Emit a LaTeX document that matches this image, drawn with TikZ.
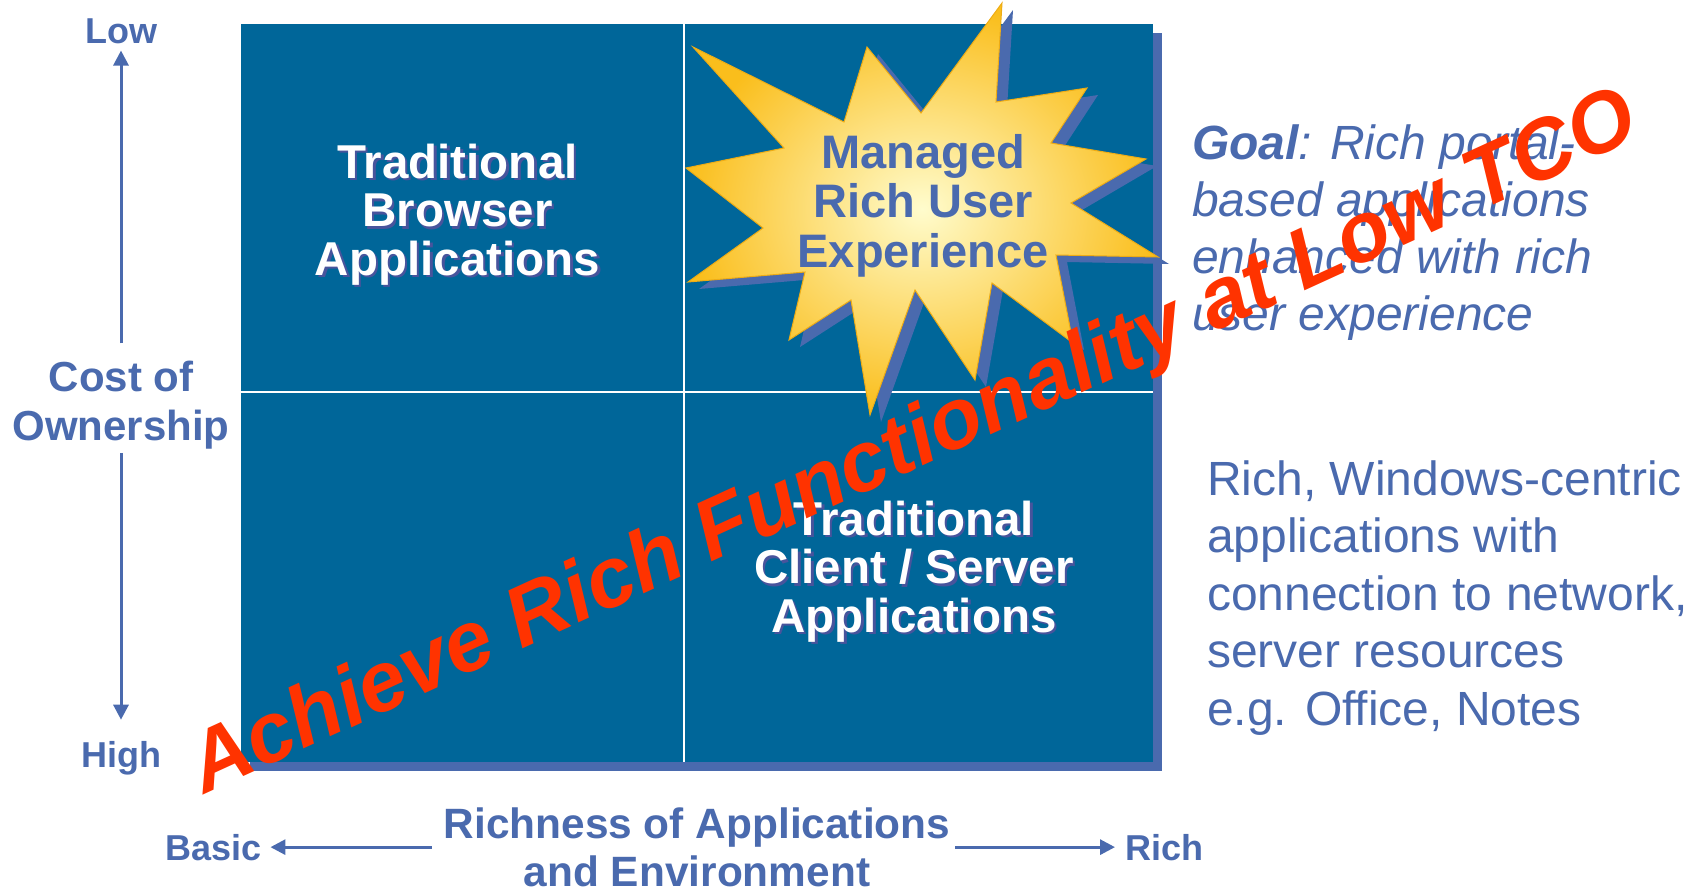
\documentclass[tikz,border=0pt]{standalone}
\usepackage{fontspec}
\setmainfont{Liberation Sans}
\usetikzlibrary{arrows.meta}
\usepackage{xcolor}

\definecolor{quadblue}{RGB}{0,102,153}
\definecolor{labelblue}{RGB}{74,106,174}
\definecolor{dropblue}{RGB}{74,106,174}
\definecolor{textshade}{RGB}{72,84,156}
\definecolor{burstgold}{RGB}{250,190,28}
\definecolor{burstlight}{RGB}{255,252,205}
\definecolor{burstedge}{RGB}{238,172,20}
\definecolor{tcored}{RGB}{255,51,0}

\tikzset{
    axislabel/.style={text=labelblue, inner sep=0pt, anchor=base, align=center},
    axisarrow/.style={draw=labelblue, line width=3pt, -{Triangle[width=15pt,length=15pt]}},
    quadtext/.style={text=white, inner sep=0pt, anchor=base, align=center,
        font=\fontsize{47.5pt}{48.5pt}\selectfont\bfseries},
    quadshade/.style={quadtext, text=textshade},
    sidetext/.style={text=labelblue, inner sep=0pt, anchor=base west, align=left},
    burst/.style={insert path={(1002,3) -- (996,102) -- (1087,88) -- (1051,143)
        -- (1146,159) -- (1071,203) -- (1158,257) -- (1056,255) -- (1073,343)
        -- (992,283) -- (975,380) -- (915,290) -- (870,415) -- (851,300)
        -- (789,340) -- (805,272) -- (688,282) -- (763,228) -- (686,168)
        -- (784,148) -- (693,47) -- (844,122) -- (867,47) -- (921,113) -- cycle}}
}

\begin{document}
\begin{tikzpicture}[x=1pt, y=-1pt]
        \useasboundingbox (0,0) rectangle (1692,894);

        % the four quadrants
        \fill[dropblue] (250,33) rectangle (1162,771);
        \fill[quadblue] (241,24) rectangle (1153,762);
        \draw[white, line width=2pt] (684,24) -- (684,762);
        \draw[white, line width=2pt] (241,392) -- (1153,392);

        % star burst
        \fill[dropblue, shift={(11,7)}, burst];
        \shadedraw[inner color=burstlight, outer color=burstgold, draw=burstedge, line width=1pt, burst];
        \node[quadtext, text=labelblue, font=\fontsize{47pt}{49.5pt}\selectfont\bfseries] (managed) at (923,267) {Managed\\Rich User\\Experience};

        \node[quadshade] (browser-sh) at (460,277.5) {Traditional\\Browser\\Applications};
        \node[quadtext] (browser) at (457.5,275) {Traditional\\Browser\\Applications};
        \node[quadshade] (client-sh) at (916.5,634.5) {Traditional\\Client / Server\\Applications};
        \node[quadtext] (client) at (914,632) {Traditional\\Client / Server\\Applications};

        % axes
        \node[axislabel, font=\fontsize{36pt}{36pt}\selectfont\bfseries] (low) at (121,43) {Low};
        \node[axislabel, font=\fontsize{42pt}{49pt}\selectfont\bfseries] (cost) at (121,440) {Cost of\\Ownership};
        \node[axislabel, font=\fontsize{36pt}{36pt}\selectfont\bfseries] (high) at (121,767) {High};
        \draw[axisarrow, shorten <=17pt, shorten >=7pt] (cost.north) -- (low.south);
        \draw[axisarrow, shorten <=4pt, shorten >=21pt] (cost.south) -- (high.north);

        \node[axislabel, anchor=base west, font=\fontsize{36pt}{36pt}\selectfont\bfseries] (basic) at (165,860) {Basic};
        \node[axislabel, font=\fontsize{42.4pt}{48pt}\selectfont\bfseries] (richness) at (697,886) {Richness of Applications\\and Environment};
        \node[axislabel, anchor=base west, font=\fontsize{36pt}{36pt}\selectfont\bfseries] (rich) at (1125,860) {Rich};
        \draw[axisarrow, shorten <=12pt, shorten >=9pt] (richness.west |- basic.east) -- (basic.east);
        \draw[axisarrow, shorten <=5pt, shorten >=10pt] (richness.east |- rich.west) -- (rich.west);

        % notes on the right
        \node[sidetext, font=\fontsize{48pt}{56.7pt}\selectfont\itshape] (goal) at (1192,330) {\textbf{Goal}: Rich portal-\\based applications\\enhanced with rich\\user experience};
        \node[sidetext, font=\fontsize{48pt}{57.5pt}\selectfont] (windows) at (1207,725) {Rich, Windows-centric\\applications with\\connection to network,\\server resources\\e.g. Office, Notes};

        % slogan across everything
        \node[text=tcored, inner sep=0pt, anchor=base west, rotate=24.6, font=\fontsize{85pt}{85pt}\selectfont\bfseries\itshape] (slogan) at (204,795) {Achieve Rich Functionality at Low TCO};
    \end{tikzpicture}
\end{document}
